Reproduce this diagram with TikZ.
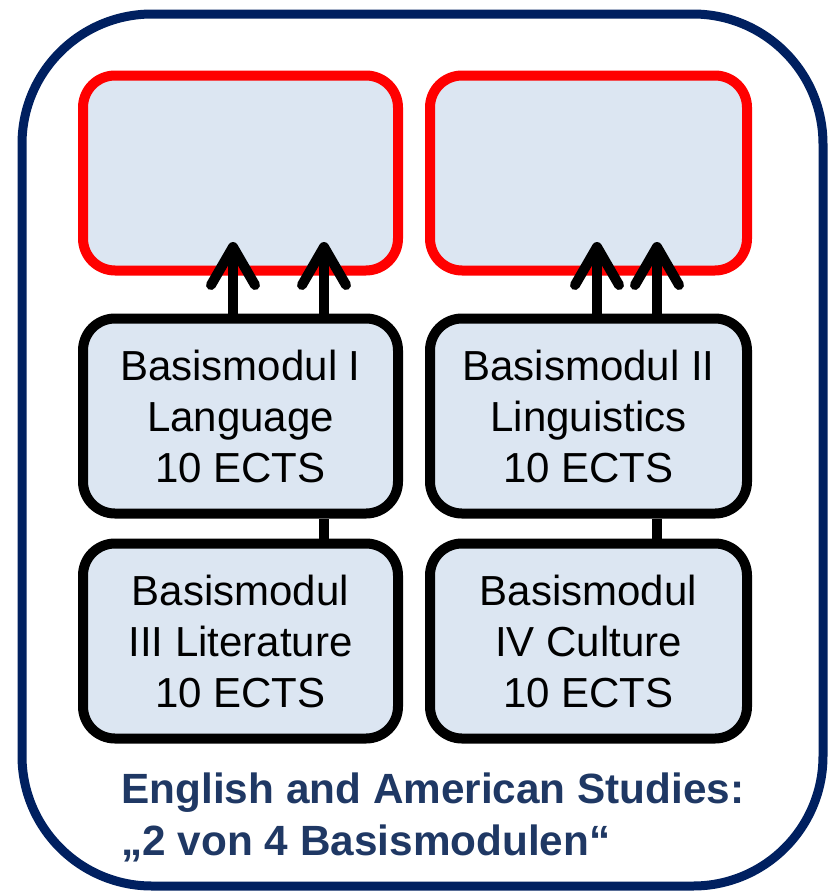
\documentclass[tikz,border=0pt]{standalone}
\usepackage{fontspec}
\setmainfont{Liberation Sans}
\usetikzlibrary{arrows.meta}
\definecolor{navy}{HTML}{002060}
\definecolor{titleblue}{HTML}{1F3864}
\definecolor{boxfill}{HTML}{DCE6F2}
\tikzset{
  modul/.style={draw=black, fill=boxfill, line width=10pt, rounded corners=32pt,
    minimum width=315pt, minimum height=195pt, inner sep=0pt, align=center,
    font=\fontsize{42}{51}\selectfont},
  ziel/.style={modul, draw=red},
  pfeil/.style={line width=10pt, -{Straight Barb[length=38pt, width=44pt, round]}},
  link/.style={line width=10pt},
  titel/.style={anchor=base west, text=titleblue, font=\bfseries\fontsize{42.3}{52}\selectfont}
}

\begin{document}
\begin{tikzpicture}[x=1pt,y=-1pt]
\useasboundingbox (0,0) rectangle (828,892);
\draw[navy, line width=9pt, rounded corners=130pt] (22,14) rectangle (823,886);

% target boxes (empty)
\node[ziel] (ZielL) at (240.5,173) {};
\node[ziel, minimum width=317pt] (ZielR) at (588.5,173) {};

% Basismodule
\node[modul] (BM1) at (240.5,416) {Basismodul I\\Language\\10 ECTS};
\node[modul, minimum width=317pt] (BM2) at (588.5,416) {Basismodul II\\Linguistics\\10 ECTS};
\node[modul] (BM3) at (240.5,641) {Basismodul\\III Literature\\10 ECTS};
\node[modul, minimum width=317pt] (BM4) at (588.5,641) {Basismodul\\IV Culture\\10 ECTS};

% arrow tips inside the target boxes
\coordinate (tipA) at (233,242);
\coordinate (tipB) at (324,242);
\coordinate (tipC) at (597,242);
\coordinate (tipD) at (657,242);

\draw[pfeil] (BM1.north -| tipA) -- (tipA);
\draw[pfeil] (BM1.north -| tipB) -- (tipB);
\draw[link] (BM3.north -| tipB) -- (BM1.south -| tipB);
\draw[pfeil] (BM2.north -| tipC) -- (tipC);
\draw[pfeil] (BM2.north -| tipD) -- (tipD);
\draw[link] (BM4.north -| tipD) -- (BM2.south -| tipD);

\node[titel] (titel1) at (118,803) {English and American Studies:};
\node[titel] (titel2) at (118,855) {„2 von 4 Basismodulen“};
\end{tikzpicture}
\end{document}
